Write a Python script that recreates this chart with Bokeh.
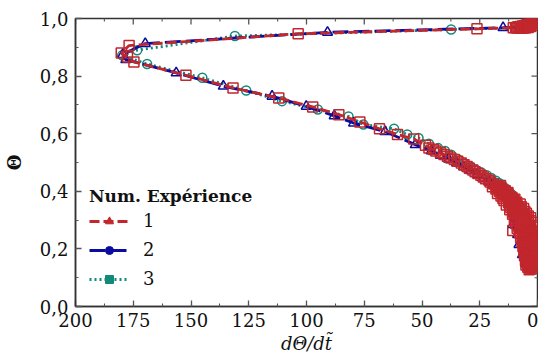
import math
from bokeh.plotting import figure
from bokeh.models import (Range1d, SingleIntervalTicker, CustomJSTickFormatter, Legend, LegendItem)
from bokeh.embed import file_html
from bokeh.resources import INLINE

# ---- data ----
# experiment 1: start cluster, branches, slow end (two interleaved readings of the noisy end)
exp1_start_dtheta = [0.5, 1.5, 1.0, 2.5, 2.0, 3.5, 3.0, 4.5, 4.0, 5.5, 5.0, 6.5, 6.0, 7.5, 7.0,
                     8.5, 9.5, 10.5, 1.0, 2.0, 3.0, 4.0, 5.0, 6.0, 7.0, 8.0, 9.0]
exp1_start_theta = [0.996, 0.990, 0.982, 0.986, 0.976, 0.982, 0.972, 0.979, 0.969, 0.976, 0.968,
                    0.974, 0.967, 0.972, 0.966, 0.971, 0.969, 0.968, 0.990, 0.984, 0.978, 0.975,
                    0.972, 0.970, 0.969, 0.968, 0.967]
exp1_mid_dtheta = [26.2, 103.6, 176.8, 180.2, 177.5, 174.7, 152.2, 131.8, 112.0, 97.3, 86.0, 76.9,
                   68.4, 60.6, 53.6, 48.5, 47.0, 45.0, 44.0, 42.0, 40.5, 39.0, 37.5, 36.0, 34.5,
                   33.0, 31.8, 30.5, 29.5, 28.0, 27.0, 25.8, 24.5, 23.5, 22.5, 21.0, 20.5, 19.0]
exp1_mid_theta = [0.964, 0.947, 0.906, 0.880, 0.866, 0.849, 0.803, 0.759, 0.724, 0.693, 0.666, 0.641,
                  0.617, 0.597, 0.582, 0.560, 0.550, 0.545, 0.540, 0.534, 0.528, 0.522, 0.516, 0.510,
                  0.504, 0.498, 0.492, 0.486, 0.480, 0.474, 0.468, 0.462, 0.456, 0.450, 0.444, 0.438,
                  0.432, 0.426]
exp1_end_a_dtheta = [16.0, 19.5, 16.5, 18.0, 14.8, 16.5, 12.8, 17.3, 13.5, 15.8,
                     11.5, 15.0, 9.8, 14.5, 10.5, 12.5, 7.5, 13.5, 8.5, 11.5,
                     6.0, 12.0, 7.0, 10.5, 4.8, 10.8, 6.0, 9.5, 3.0, 10.0,
                     4.0, 8.5, 2.0, 9.4, 4.5, 7.5, 2.0, 8.8, 3.5, 10.7,
                     2.0, 7.8, 3.0, 6.5, 1.8, 7.3, 3.2, 6.0, 1.7, 6.7,
                     2.8, 5.5, 1.6, 6.3, 3.0, 5.8, 1.6, 5.9, 2.5, 5.0,
                     1.6, 5.6, 2.4, 4.8, 1.6, 5.2, 2.6, 4.6, 1.7, 5.0,
                     2.5, 4.2, 1.8, 3.6]
exp1_end_a_theta = [0.420, 0.416, 0.412, 0.408, 0.404, 0.400, 0.396, 0.392, 0.388, 0.384,
                    0.380, 0.376, 0.372, 0.368, 0.364, 0.360, 0.356, 0.352, 0.348, 0.344,
                    0.340, 0.336, 0.332, 0.328, 0.324, 0.320, 0.316, 0.312, 0.308, 0.304,
                    0.300, 0.296, 0.292, 0.288, 0.284, 0.280, 0.276, 0.272, 0.268, 0.264,
                    0.260, 0.256, 0.252, 0.248, 0.244, 0.240, 0.236, 0.232, 0.228, 0.224,
                    0.220, 0.216, 0.212, 0.208, 0.204, 0.200, 0.196, 0.192, 0.188, 0.184,
                    0.180, 0.176, 0.172, 0.168, 0.164, 0.160, 0.156, 0.152, 0.148, 0.144,
                    0.140, 0.136, 0.132, 0.128]
exp1_end_b_dtheta = [17.5, 17.8, 15.5, 16.5, 14.0, 15.5, 13.5, 14.5, 12.5, 13.5,
                     11.0, 12.5, 10.5, 12.0, 9.0, 11.0, 9.5, 10.5, 7.0, 10.0,
                     8.0, 9.5, 5.5, 9.0, 6.5, 8.0, 4.0, 7.5, 5.5, 7.0,
                     3.0, 6.5, 5.0, 6.5, 3.5, 6.0, 4.5, 6.5, 2.8, 5.5,
                     4.5, 6.0, 2.5, 5.0, 4.0, 5.5, 2.3, 4.5, 3.8, 5.0,
                     2.2, 4.2, 3.5, 4.8, 2.2, 4.0, 3.2, 4.5, 2.0, 3.8,
                     3.0, 4.2, 2.0, 3.6, 3.0, 4.0, 2.0, 3.5, 3.0, 3.8,
                     2.2, 3.2, 2.8]
exp1_end_b_theta = [0.418, 0.414, 0.410, 0.406, 0.402, 0.398, 0.394, 0.390, 0.386, 0.382,
                    0.378, 0.374, 0.370, 0.366, 0.362, 0.358, 0.354, 0.350, 0.346, 0.342,
                    0.338, 0.334, 0.330, 0.326, 0.322, 0.318, 0.314, 0.310, 0.306, 0.302,
                    0.298, 0.294, 0.290, 0.286, 0.282, 0.278, 0.274, 0.270, 0.266, 0.262,
                    0.258, 0.254, 0.250, 0.246, 0.242, 0.238, 0.234, 0.230, 0.226, 0.222,
                    0.218, 0.214, 0.210, 0.206, 0.202, 0.198, 0.194, 0.190, 0.186, 0.182,
                    0.178, 0.174, 0.170, 0.166, 0.162, 0.158, 0.154, 0.150, 0.146, 0.142,
                    0.138, 0.134, 0.130]

exp2_dtheta = [0.5, 2.5, 4.5, 7.5, 14.9, 90.9, 169.8, 179.5, 178.2, 156.4, 136.0, 114.9, 100.1,
               88.0, 79.6, 66.0, 52.9, 46.0, 42.0, 38.5, 35.0, 32.0, 29.0, 26.0, 23.5, 21.0, 19.0,
               17.0, 15.0, 13.5, 12.0, 11.0, 10.0, 9.3, 8.6, 10.7, 7.5, 8.6, 6.5, 8.0, 5.8, 6.5,
               4.8, 5.2, 3.8, 3.5]
exp2_theta = [0.990, 0.982, 0.975, 0.970, 0.968, 0.952, 0.913, 0.875, 0.857, 0.811, 0.765, 0.730,
              0.695, 0.662, 0.637, 0.607, 0.562, 0.540, 0.525, 0.512, 0.498, 0.485, 0.472, 0.458,
              0.446, 0.433, 0.420, 0.407, 0.394, 0.381, 0.367, 0.352, 0.336, 0.318, 0.300, 0.284,
              0.270, 0.250, 0.232, 0.215, 0.198, 0.180, 0.165, 0.150, 0.138, 0.130]

exp3_dtheta = [0.8, 2.5, 5.0, 8.0, 37.4, 131.0, 173.3, 179.8, 169.0, 145.1, 126.1, 110.6, 95.1,
               81.8, 75.4, 62.1, 56.4, 51.5, 47.0, 43.0, 40.0, 37.4, 34.6, 31.8, 29.0, 27.0, 24.5,
               22.0, 20.0, 18.0, 16.5, 15.0, 13.5, 12.2, 11.0, 10.0, 9.0, 8.0, 7.2, 6.4, 5.6, 4.9,
               4.2, 3.6, 3.0, 2.5, 2.0, 1.6, 1.3, 1.0, 0.8, 0.6]
exp3_theta = [0.988, 0.980, 0.972, 0.968, 0.962, 0.939, 0.890, 0.872, 0.842, 0.794, 0.750, 0.713,
              0.684, 0.660, 0.632, 0.617, 0.597, 0.585, 0.565, 0.550, 0.540, 0.527, 0.512, 0.497,
              0.486, 0.476, 0.466, 0.456, 0.446, 0.437, 0.428, 0.418, 0.408, 0.398, 0.388, 0.378,
              0.366, 0.354, 0.342, 0.330, 0.316, 0.302, 0.288, 0.272, 0.256, 0.240, 0.222, 0.205,
              0.188, 0.170, 0.155, 0.140]

legend_labels = ["1", "2", "3"]
x_major_ticks = [0, 25, 50, 75, 100, 125, 150, 175, 200]
x_minor_ticks = [12.5, 37.5, 62.5, 87.5, 112.5, 137.5, 162.5, 187.5]
y_major_ticks = [0.0, 0.2, 0.4, 0.6, 0.8, 1.0]
y_minor_ticks = [0.1, 0.3, 0.5, 0.7, 0.9]

# assemble experiment 1 in time order
start = sorted(zip(exp1_start_dtheta, exp1_start_theta), key=lambda t: t[0])
end = sorted(list(zip(exp1_end_a_dtheta, exp1_end_a_theta)) +
             list(zip(exp1_end_b_dtheta, exp1_end_b_theta)), key=lambda t: -t[1])
exp1_dtheta = [a for a, b in start] + exp1_mid_dtheta + [a for a, b in end]
exp1_theta = [b for a, b in start] + exp1_mid_theta + [b for a, b in end]

# ---- styles ----
RED, BLUE, TEAL = "#C1272D", "#0B0B9E", "#13897A"
FONT = "DejaVu Serif"
AX = "#333333"
TK = "#555555"

p = figure(width=538, height=356, output_backend="svg", toolbar_location=None,
           x_range=Range1d(200, 0), y_range=Range1d(0, 1.0),
           min_border_left=66, min_border_top=18, min_border_bottom=50, min_border_right=1)
p.background_fill_color = "white"
p.border_fill_color = "white"
p.outline_line_color = AX
p.outline_line_width = 1.5
p.grid.visible = False

fmt_x = CustomJSTickFormatter(code="return tick.toFixed(0);")
fmt_y = CustomJSTickFormatter(code="return tick.toFixed(1).replace('.', ',');")

def style_axis(ax):
    ax.axis_line_color = AX
    ax.axis_line_width = 1.5
    ax.major_tick_line_color = TK
    ax.minor_tick_line_color = TK
    ax.major_tick_line_width = 1.3
    ax.minor_tick_line_width = 1.1
    ax.major_tick_in = 6
    ax.major_tick_out = 0
    ax.minor_tick_in = 3
    ax.minor_tick_out = 0
    ax.major_label_text_font = FONT
    ax.major_label_text_font_size = "18px"
    ax.major_label_text_color = "#111111"
    ax.axis_label_text_font = FONT
    ax.axis_label_text_font_size = "18px"
    ax.axis_label_text_color = "#111111"

xa = p.xaxis[0]
xa.ticker = SingleIntervalTicker(interval=25, num_minor_ticks=2)
xa.formatter = fmt_x
style_axis(xa)
xa.axis_label = "d\u0398/dt\u0303"
xa.axis_label_text_font_style = "italic"
xa.major_label_standoff = 6
xa.axis_label_standoff = 3

ya = p.yaxis[0]
ya.ticker = SingleIntervalTicker(interval=0.2, num_minor_ticks=2)
ya.formatter = fmt_y
style_axis(ya)
ya.axis_label = "\u0398"
ya.axis_label_text_font_style = "bold"
ya.major_label_standoff = 7
ya.axis_label_standoff = 12

# mirrored inward ticks on top and right edges (clipped to the frame)
p.scatter(x_major_ticks, [1.0] * len(x_major_ticks), marker="dash", angle=math.pi / 2,
          size=12, line_color=TK, line_width=1.3)
p.scatter(x_minor_ticks, [1.0] * len(x_minor_ticks), marker="dash", angle=math.pi / 2,
          size=6, line_color=TK, line_width=1.1)
p.scatter([0.0] * len(y_major_ticks), y_major_ticks, marker="dash",
          size=12, line_color=TK, line_width=1.3)
p.scatter([0.0] * len(y_minor_ticks), y_minor_ticks, marker="dash",
          size=6, line_color=TK, line_width=1.1)

# ---- data series (teal, blue, then red on top) ----
series = [
    (exp3_dtheta, exp3_theta, TEAL, "2 3", "circle", 9),
    (exp2_dtheta, exp2_theta, BLUE, "16 5", "triangle", 10),
    (exp1_dtheta, exp1_theta, RED, "10 4", "square", 10),
]
for xs, ys, col, dash, mk, sz in series:
    p.line(xs, ys, line_color=col, line_width=2.8, line_dash=dash)
    p.scatter(xs, ys, marker=mk, size=sz, fill_color=None, line_color=col, line_width=1.5)

# ---- legend (filled markers) ----
leg_specs = [
    (RED, "10 4", "triangle", 11),
    (BLUE, "16 5", "circle", 10),
    (TEAL, "2 3", "square", 10),
]
nan = float("nan")
items = []
for lab, (col, dash, mk, sz) in zip(legend_labels, leg_specs):
    lr = p.line([nan], [nan], line_color=col, line_width=2.8, line_dash=dash)
    sr = p.scatter([nan], [nan], marker=mk, size=sz, fill_color=col, line_color=col)
    items.append(LegendItem(label=lab, renderers=[lr, sr]))

legend = Legend(items=items, location=(14, 17), title="Num. Expérience",
                title_text_font=FONT, title_text_font_size="17px", title_text_font_style="bold",
                title_text_color="#111111", title_standoff=4,
                label_text_font=FONT, label_text_font_size="18px", label_text_color="#111111",
                glyph_width=40, glyph_height=20, label_height=20, label_standoff=14, spacing=8,
                padding=0, margin=0, border_line_color=None, background_fill_alpha=0)
p.add_layout(legend, "center")

open("out.html", "w").write(file_html(p, INLINE))
